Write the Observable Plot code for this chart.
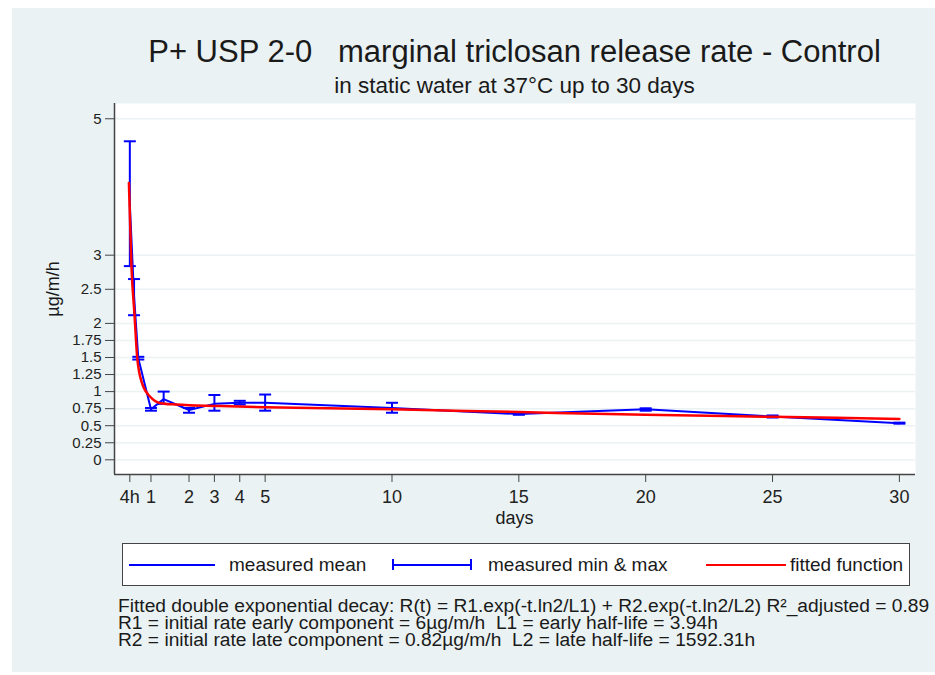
<!DOCTYPE html>
<html><head><meta charset="utf-8">
<script src="https://cdn.jsdelivr.net/npm/d3@7"></script>
<script src="https://cdn.jsdelivr.net/npm/@observablehq/plot@0.6"></script>
<style>
body{margin:0;background:#fff;font-family:"Liberation Sans",Arial,sans-serif;color:#1a1a1a}
#wrap{position:relative;width:935px;height:675px;overflow:hidden}
#panel{position:absolute;left:12px;top:8px;width:923px;height:664px;background:#eaf2f3}
#chart{position:absolute;left:0;top:0}
.t{position:absolute;white-space:pre;line-height:1}
#title{left:114px;width:801px;top:36px;text-align:center;font-size:31px}
#subtitle{left:114px;width:801px;top:75px;text-align:center;font-size:22.5px}
#xlabel{left:114px;width:801px;top:509px;text-align:center;font-size:18px}
#ylabel{left:53px;top:289px;font-size:18px;transform:translate(-50%,-50%) rotate(-90deg)}
#legend{position:absolute;left:122px;top:543px;width:786px;height:41px;border:1.5px solid #444;background:#fff}
.sw{position:absolute;top:20px;height:0;border-top:2px solid}
.lt{position:absolute;top:11px;font-size:19px;line-height:1;white-space:nowrap}
#caption{left:118px;top:597px;font-size:19.2px;line-height:17px}
</style></head>
<body><div id="wrap">
<div id="panel"></div>
<div id="chart"></div>
<div class="t" id="title">P+ USP 2-0   marginal triclosan release rate - Control</div>
<div class="t" id="subtitle">in static water at 37°C up to 30 days</div>
<div class="t" id="xlabel">days</div>
<div class="t" id="ylabel">µg/m/h</div>
<div id="legend">
  <div class="sw" style="left:6px;width:86px;border-color:#0000ff"></div>
  <div class="lt" style="left:106px">measured mean</div>
  <div class="sw" style="left:269px;width:80px;border-color:#0000ff"></div>
  <div style="position:absolute;left:269px;top:15px;height:11px;border-left:2px solid #0000ff"></div>
  <div style="position:absolute;left:347px;top:15px;height:11px;border-left:2px solid #0000ff"></div>
  <div class="lt" style="left:365px">measured min &amp; max</div>
  <div class="sw" style="left:583px;width:80px;border-color:#ff0000"></div>
  <div class="lt" style="left:667px">fitted function</div>
</div>
<div class="t" id="caption">Fitted double exponential decay: R(t) = R1.exp(-t.ln2/L1) + R2.exp(-t.ln2/L2) R²_adjusted = 0.89
R1 = initial rate early component = 6µg/m/h  L1 = early half-life = 3.94h
R2 = initial rate late component = 0.82µg/m/h  L2 = late half-life = 1592.31h</div>
</div>
<script>
// elapsed sampling time (days) and measured release rates (µg/m/h)
const sampleDays = [1/6, 1/3, 0.5, 1, 1.5, 2.5, 3.5, 4.5, 5.5, 10.5, 15.5, 20.5, 25.5, 30.5];
const meanRate   = [3.75, 2.40, 1.49, 0.74, 0.89, 0.73, 0.82, 0.835, 0.835, 0.76, 0.67, 0.74, 0.635, 0.537];
const minRate    = [2.84, 2.12, 1.47, 0.72, 0.82, 0.69, 0.72, 0.81, 0.72, 0.69, 0.66, 0.72, 0.62, 0.53];
const maxRate    = [4.67, 2.65, 1.51, 0.76, 1.00, 0.76, 0.95, 0.865, 0.957, 0.836, 0.68, 0.755, 0.65, 0.545];
// fitted curve
const fitDays = [0.13, 0.23, 0.35, 0.46, 0.65, 0.98, 1.38, 2.0, 2.5, 3.5, 5.5, 10.5, 15.5, 20.5, 25.5, 30.5];
const fitRate = [4.06, 2.84, 2.13, 1.49, 1.12, 0.92, 0.83, 0.81, 0.80, 0.79, 0.77, 0.74, 0.70, 0.66, 0.63, 0.60];
// axis ticks
const xTickDays   = [1/6, 1, 2.5, 3.5, 4.5, 5.5, 10.5, 15.5, 20.5, 25.5, 30.5];
const xTickLabels = ["4h","1","2","3","4","5","10","15","20","25","30"];
const yTicks      = [0, 0.25, 0.5, 0.75, 1, 1.25, 1.5, 1.75, 2, 2.5, 3, 5];
const yTickLabels = ["0","0.25","0.5","0.75","1","1.25","1.5","1.75","2","2.5","3","5"];

const measured = sampleDays.map((d, i) => ({day: d, mean: meanRate[i], min: minRate[i], max: maxRate[i]}));
const fitted = fitDays.map((d, i) => ({day: d, rate: fitRate[i]}));
const xLab = new Map(xTickDays.map((d, i) => [d, xTickLabels[i]]));
const yLab = new Map(yTicks.map((d, i) => [d, yTickLabels[i]]));
const xDomain = [-0.4375, 31.135];
const yDomain = [-0.2155, 5.224];
const cap = {draw(ctx, size) { const w = Math.sqrt(size / Math.PI); ctx.moveTo(-w, 0); ctx.lineTo(w, 0); }};

const plot = Plot.plot({
  width: 935, height: 540,
  marginLeft: 114, marginRight: 20, marginTop: 103, marginBottom: 66,
  style: {background: "transparent", fontFamily: "Liberation Sans, Arial, sans-serif", color: "#222"},
  x: {type: "linear", domain: xDomain},
  y: {type: "linear", domain: yDomain},
  marks: [
    Plot.frame({fill: "white", stroke: "none"}),
    Plot.gridY(yTicks, {stroke: "#eaf2f3", strokeOpacity: 1, strokeWidth: 1.5}),
    Plot.ruleX([xDomain[0]], {stroke: "#444", strokeWidth: 1.5}),
    Plot.ruleY([yDomain[0]], {stroke: "#444", strokeWidth: 1.5}),
    Plot.axisY(yTicks, {tickSize: 9, tickPadding: 4, tickFormat: d => yLab.get(d), fontSize: 15, stroke: "#444", label: null}),
    Plot.axisX(xTickDays, {tickSize: 8, tickPadding: 8, tickFormat: d => xLab.get(d), fontSize: 18, stroke: "#444", label: null}),
    Plot.line(measured, {x: "day", y: "mean", stroke: "#0000ff", strokeWidth: 2}),
    Plot.ruleX(measured, {x: "day", y1: "min", y2: "max", stroke: "#0000ff", strokeWidth: 2}),
    Plot.dot(measured, {x: "day", y: "min", symbol: cap, r: 6, stroke: "#0000ff", strokeWidth: 2, fill: "none"}),
    Plot.dot(measured, {x: "day", y: "max", symbol: cap, r: 6, stroke: "#0000ff", strokeWidth: 2, fill: "none"}),
    Plot.line(fitted, {x: "day", y: "rate", stroke: "#ff0000", strokeWidth: 2.5, curve: "monotone-x"})
  ]
});
document.getElementById("chart").appendChild(plot);
</script>
</body></html>
